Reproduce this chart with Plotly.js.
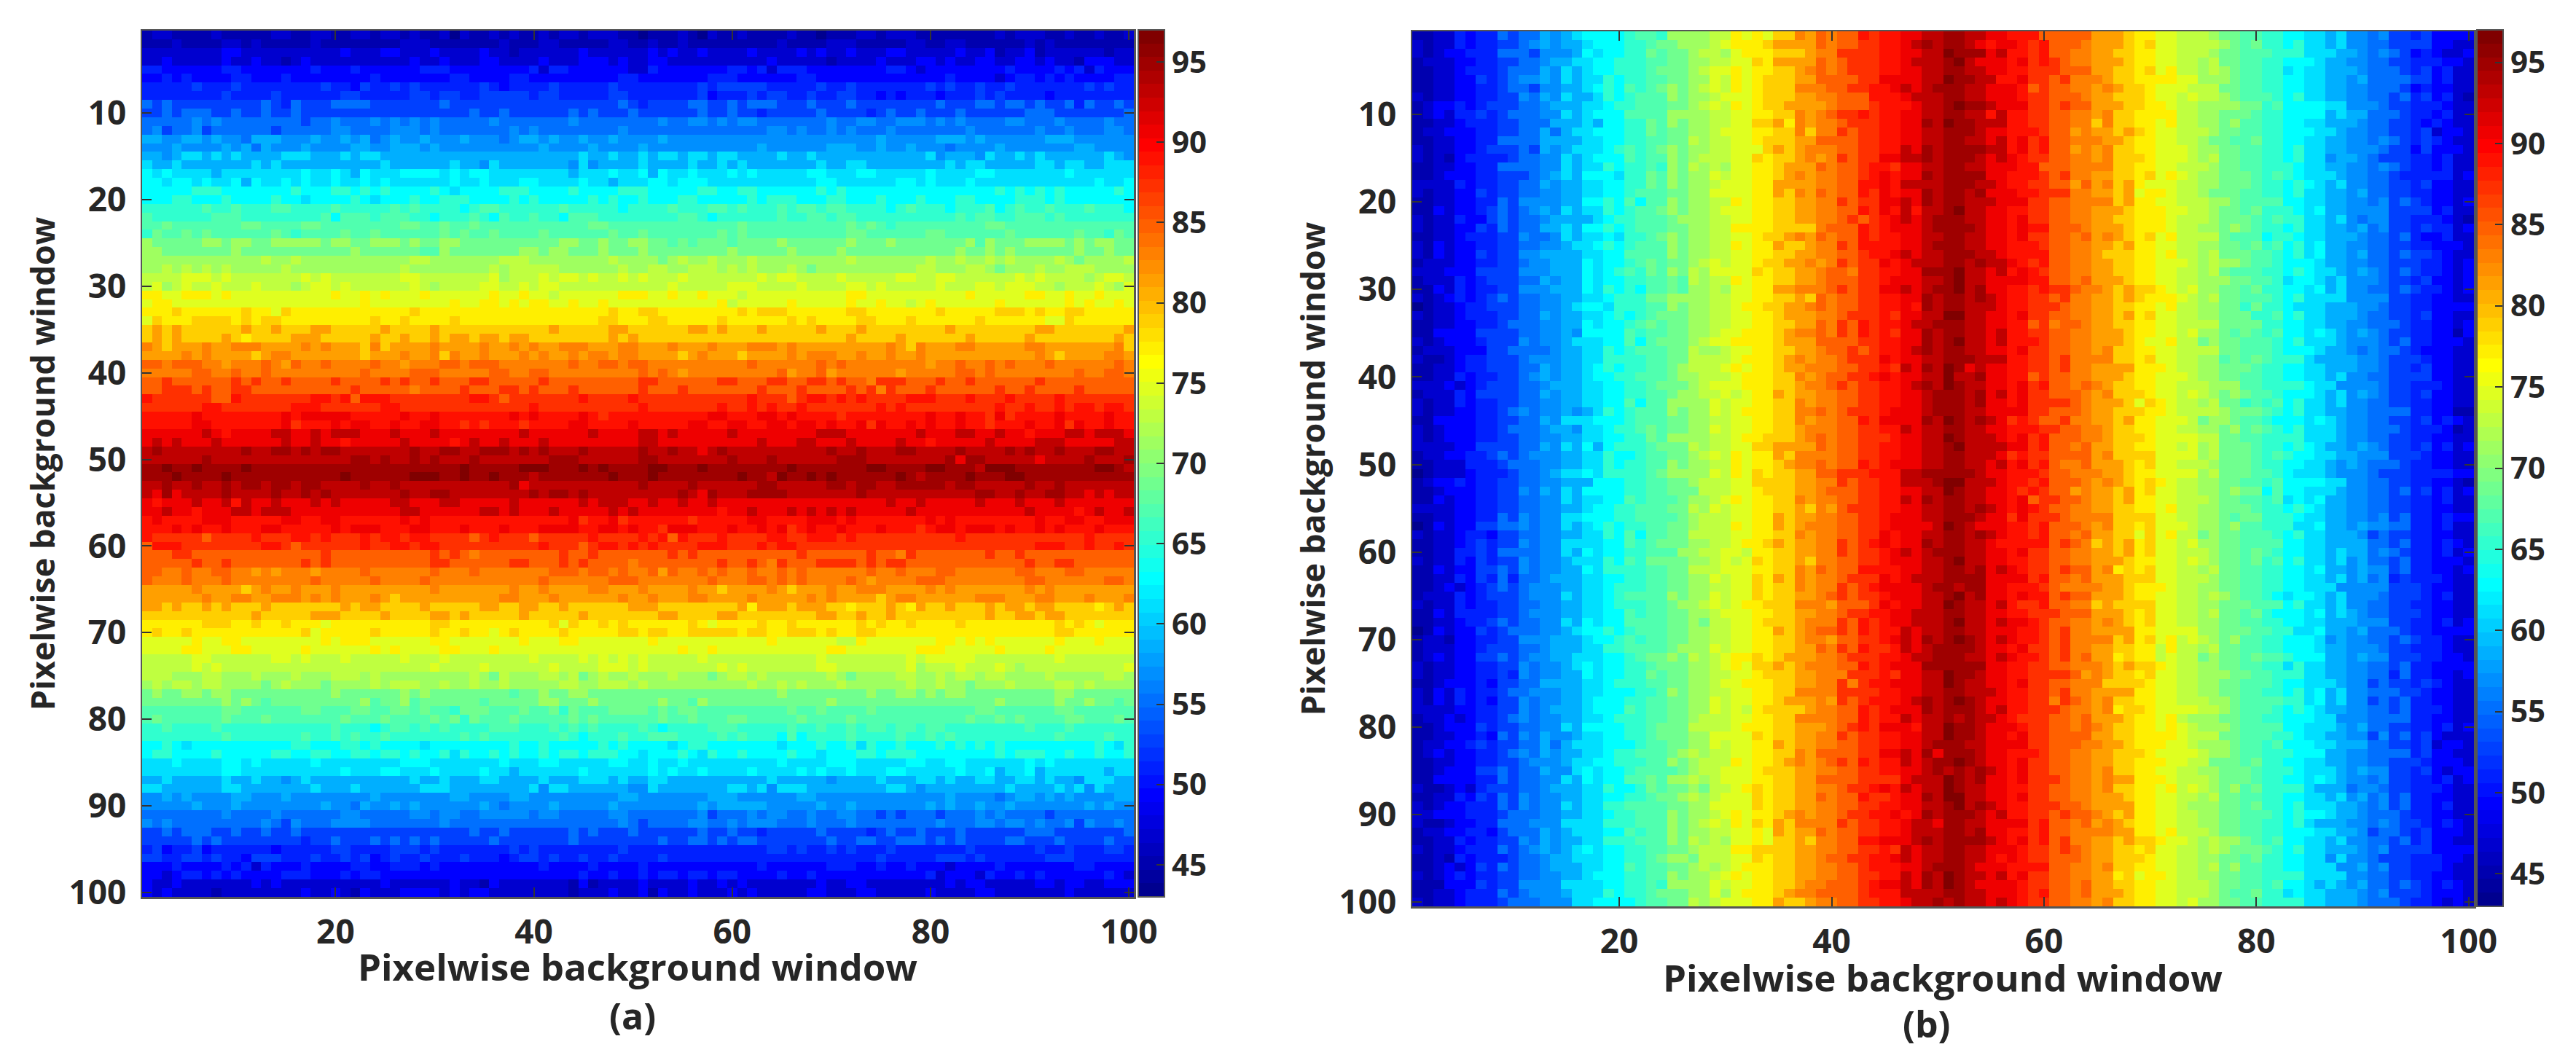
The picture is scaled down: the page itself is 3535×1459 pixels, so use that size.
<!DOCTYPE html>
<html><head><meta charset="utf-8">
<script src="https://cdn.plot.ly/plotly-3.0.1.min.js"></script>
<style>html,body{margin:0;padding:0;background:#fff}</style></head>
<body><div id="chart" style="width:3535px;height:1459px"></div>
<script>
// Band values, one per row of panel (a).
var rowBandsA = [45,45,47,47,49,49,51,51,53,53,55,55,57,57,59,59,61,61,63,63,65,65,67,67,69,69,71,71,73,73,75,75,77,77,79,79,81,81,83,83,85,85,87,87,89,89,91,91,93,93,95,95,93,93,91,91,89,89,87,87,85,85,83,83,81,81,79,79,77,77,75,75,73,73,71,71,69,69,67,67,65,65,63,63,61,61,59,59,57,57,55,55,53,53,51,51,49,49,47,47];
// Band values, one per column of panel (b).
var colBandsB = [45,45,47,47,49,49,51,51,53,53,55,55,57,57,59,59,61,61,63,63,65,65,67,67,69,69,71,71,73,73,75,75,77,77,79,79,81,81,83,83,85,85,87,87,89,89,91,91,93,93,95,95,93,93,91,91,89,89,87,87,85,85,83,83,81,81,79,79,77,77,75,75,73,73,71,71,69,69,67,67,65,65,63,63,61,61,59,59,57,57,55,55,53,53,51,51,49,49,47,47];
// Cell speckle, rows 1-83, columns 1-21: + one band up, - one band down.
// The crop only covers this block, so it is reused across the grid (each later block starts
// on a different row so columns do not visibly repeat); panel (b) uses it transposed.
var speckle = [
".++....+.....++..++..","...+....++.+.....+...","........++..........+","..+.....+..+..-.+....","++......++.......+...",
"..+.+....++...+......",".....+...+........+..","........+....+......+","+.+.........+.-+...++","..+.+++..+..+..+.....",
".....+.+........-..+.",".+-..+-......-.....++","++..++.+..-+++...+..+","...+....+.+-+...+....","..-.++.+.+....+++...+",
"+..+.......+.+.......","+.+....-........+..+.","++.++.+..+-+..+.+..+.",".....+++.......+...++","...++...+....+..-....",
"......+..+...++....+.","+......+++........+-+","..+.......++....++...","-+..+.+......+.-....+","+.....++.++..+++++.++",
"++.......+...........","............+..+.....","..+.+.+.+.....+......","....+++.+.......+.+..",".+-.+..+...+...-.++.+",
"++..+++.+..........+.",".++..................","...+......+..-+......","-+...++++.+.++.......",".+.+......+..+...++..",
".+.+....+.-....+++...","+.-...+..+++....+.+..","....+.+....-.++......","++.+++..-...+.-+..+..",".....++..+..+........",
"..+......+.+..+....+.","..+++.+..++..........","+......--+.......++.+","......++.......+++...",".....+........+.+++++",
".....++.......+-...+.","......+.-....++..+.++",".+.+...+......+..+..-",".+........+..++.+.++.","......+..............",
"..+..+....+..........","...+....+...........+","..+..+..+.++.++.++...",".-+-....+....+..+.+..",".-...+..+-+..+...+.+.",
"..+..-...++.+++......",".+....+++.....++..++.","...+.+..+...++.....+.","+.....-....+...++.+..","-+++........++.-.....",
"...++.............+..",".....+..+.......+.+..","++..+..++..-.-...-...","+...+...+........+...",".....+....-.+..+...+.",
"......+..++..+++.+.+.","++.+..+.+...+.......+","...........+.....+++.","......+++..+..+...-..",".+..+...........+-...",
".....+..++........+.+","....++...++.....+....",".....++......++.+...+",".....+.+.............","+++...++...+...+...++",
".+.++.++....-.+...-..",".+..++.++..........+.","........+.+.-........","........++......++...",".+......+...+.......+",
"..+....+...........+.","........+.......+..+.","..+.-..........++...+"
];
var bandStep = [2];
var blockShift = [0,17,38,55,9];
var axisTicks = [20,40,60,80,100];
var rowTicks = [10,20,30,40,50,60,70,80,90,100];
var barTicks = [45,50,55,60,65,70,75,80,85,90,95];
var xTitle = "Pixelwise background window";
var yTitle = "Pixelwise background window";
var panelLabels = ["(a)","(b)"];

function dev(r,c){ var block=Math.floor(c/21);
  var ch = speckle[(r+blockShift[block])%speckle.length].charAt(c%21);
  return ch==='+'?bandStep[0]:(ch==='-'?-bandStep[0]:0); }
var idx=[]; for(var i=0;i<100;i++) idx.push(i+1);
var zA=[], zB=[];
for(var r=0;r<100;r++){ var ra=[], rb=[];
  for(var c=0;c<100;c++){ ra.push(rowBandsA[r]+dev(r,c)); rb.push(colBandsB[c]+dev(c,r)); }
  zA.push(ra); zB.push(rb);
}
// MATLAB jet(64), stepped
function jet(k){ function f(x){return Math.round(255*Math.max(0,Math.min(1,x)));}
  var u=(k+1)/64*4;
  return 'rgb('+f(Math.min(u-1.5,4.5-u))+','+f(Math.min(u-0.5,3.5-u))+','+f(Math.min(u+0.5,2.5-u))+')'; }
var cs=[]; for(var k=0;k<64;k++){ cs.push([k/64,jet(k)]); cs.push([(k+1)/64,jet(k)]); }

var W=3535,H=1459, ink='#262626', fam='"Open Sans", sans-serif';
function bar(x,top,bot){ return {x:x/W,xanchor:'left',xpad:0,y:1-top/H,yanchor:'top',ypad:0,lenmode:'pixels',len:bot-top,thicknessmode:'pixels',thickness:36,
  outlinecolor:'#555',outlinewidth:2,ticks:'inside',ticklen:12,tickwidth:2,tickcolor:'#333',tickmode:'array',tickvals:barTicks,ticktext:barTicks.map(String),
  tickfont:{family:fam,size:42,color:ink,weight:700}}; }
function xa(l,r,anchor){ return {domain:[l/W,r/W],anchor:anchor,range:[0.5,100.5],tickmode:'array',tickvals:axisTicks,ticktext:axisTicks.map(String),ticks:'inside',ticklen:13,tickwidth:2,tickcolor:'#333',
  showline:true,linecolor:'#555',linewidth:2.5,mirror:'ticks',showgrid:false,zeroline:false,ticklabelstandoff:6,tickfont:{family:fam,size:46,color:ink,weight:700}}; }
function ya(t,b,anchor,standoff){ return {domain:[1-b/H,1-t/H],anchor:anchor,range:[100.5,0.5],tickmode:'array',tickvals:rowTicks,ticktext:rowTicks.map(String),ticks:'inside',ticklen:13,tickwidth:2,tickcolor:'#333',
  showline:true,linecolor:'#555',linewidth:2.5,mirror:'ticks',showgrid:false,zeroline:false,ticklabelstandoff:10,tickfont:{family:fam,size:46,color:ink,weight:700},
  title:{text:'<b>'+yTitle+'</b>',standoff:standoff,font:{family:fam,size:45,color:ink}}}; }
function note(text,x,y,size){ return {text:'<b>'+text+'</b>',xref:'paper',yref:'paper',x:x/W,y:1-y/H,xanchor:'center',yanchor:'middle',showarrow:false,font:{family:fam,size:size,color:ink}}; }

var data=[
 {type:'heatmap',x:idx,y:idx,z:zA,xaxis:'x',yaxis:'y',zmin:43,zmax:97,colorscale:cs,colorbar:bar(1562,41,1231),hoverinfo:'skip'},
 {type:'heatmap',x:idx,y:idx,z:zB,xaxis:'x2',yaxis:'y2',zmin:43,zmax:97,colorscale:cs,colorbar:bar(3399,41,1244),hoverinfo:'skip'}
];
var layout={width:W,height:H,margin:{l:0,r:0,t:0,b:0},paper_bgcolor:'#fff',plot_bgcolor:'#fff',showlegend:false,
 xaxis:xa(195,1556,'y'),yaxis:ya(42,1231,'x',5),
 xaxis2:xa(1938,3395,'y2'),yaxis2:ya(43,1244,'x2',5),
 annotations:[
  note(xTitle,875,1326,51),
  note(xTitle,2666,1341,51),
  note(panelLabels[0],868,1394,50),
  note(panelLabels[1],2644,1405,50)
 ]};
Plotly.newPlot('chart',data,layout,{displayModeBar:false,staticPlot:true});
</script></body></html>
